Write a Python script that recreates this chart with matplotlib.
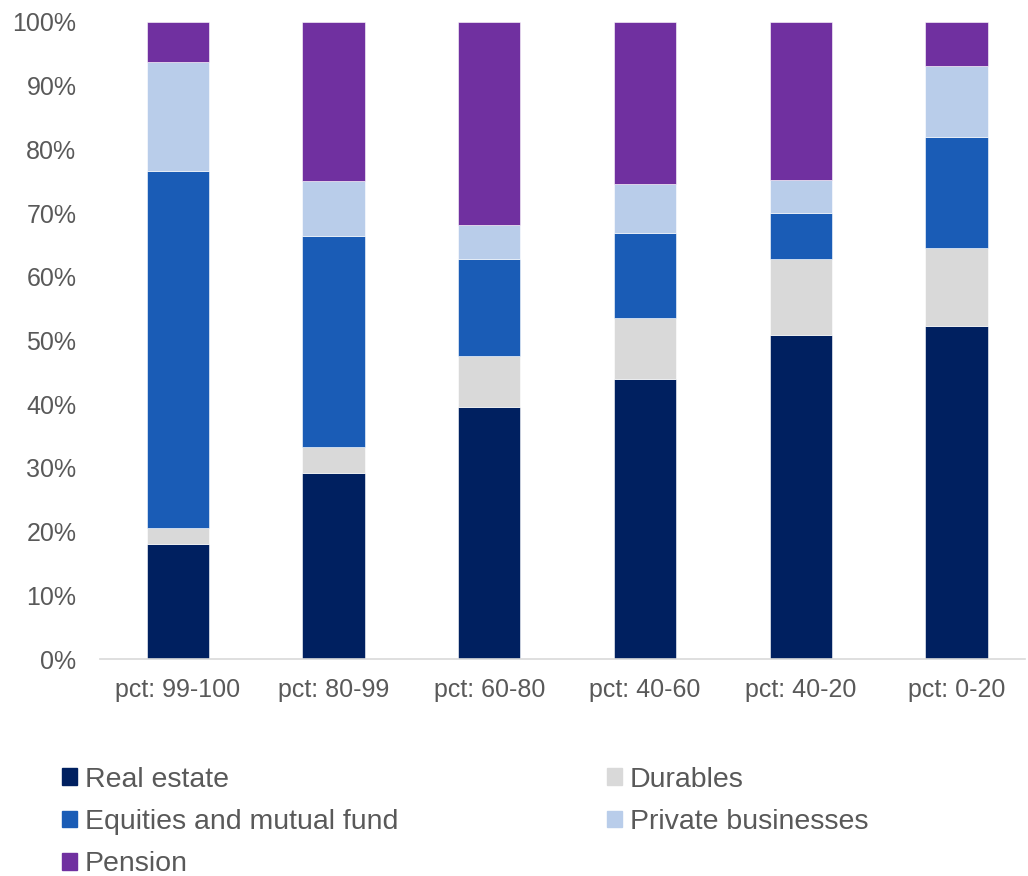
import numpy as np
import matplotlib
matplotlib.use('Agg')
import matplotlib.pyplot as plt
from matplotlib.patches import Patch

plt.rcParams['font.family'] = ['Liberation Sans', 'DejaVu Sans']

categories = ['pct: 99-100', 'pct: 80-99', 'pct: 60-80', 'pct: 40-60', 'pct: 40-20', 'pct: 0-20']
real_estate = [18.0, 29.2, 39.6, 44.0, 50.9, 52.3]
durables    = [2.5, 4.1, 8.0, 9.5, 11.9, 12.2]
equities    = [56.1, 33.1, 15.2, 13.4, 7.2, 17.4]
private_bus = [17.1, 8.6, 5.3, 7.7, 5.2, 11.2]
pension     = [6.3, 25.0, 31.9, 25.4, 24.8, 6.9]

series = [('Real estate', real_estate, '#002060'),
          ('Durables', durables, '#D9D9D9'),
          ('Equities and mutual fund', equities, '#1A5CB6'),
          ('Private businesses', private_bus, '#B9CDEA'),
          ('Pension', pension, '#7030A0')]

TXT = '#595959'

fig = plt.figure(figsize=(10.28, 8.76), dpi=100)
ax = fig.add_axes([0.0973, 0.2477, 0.8998, 0.7273])

x = np.arange(len(categories))
bottom = np.zeros(len(categories))
handles = {}
for name, vals, col in series:
    vals = np.array(vals)
    ax.bar(x, vals, 0.4, bottom=bottom, color=col, edgecolor='white', linewidth=0.4)
    bottom += vals
    handles[name] = Patch(color=col, label=name)

ax.set_xlim(-0.5, 5.44)
ax.set_ylim(0, 100)
ax.set_yticks(np.arange(0, 101, 10))
ax.set_yticklabels([f'{v}%' for v in range(0, 101, 10)])
ax.set_xticks(x)
ax.set_xticklabels(categories)
ax.tick_params(axis='both', length=0, labelsize=18, colors=TXT)
ax.tick_params(axis='y', pad=17)
ax.tick_params(axis='x', pad=14)
for s in ['top', 'right', 'left']:
    ax.spines[s].set_visible(False)
ax.spines['bottom'].set_color('#D9D9D9')
ax.spines['bottom'].set_linewidth(1.2)

def add_legend(names, xpos):
    leg = fig.legend([handles[n] for n in names], names, loc='upper left',
                     bbox_to_anchor=(xpos, 0.1246), frameon=False, fontsize=20.5,
                     handlelength=0.53, handleheight=0.53, handletextpad=0.28,
                     labelspacing=0.57, borderpad=0, borderaxespad=0)
    for t in leg.get_texts():
        t.set_color(TXT)
    return leg

add_legend(['Real estate', 'Equities and mutual fund', 'Pension'], 0.0603)
add_legend(['Durables', 'Private businesses'], 0.5905)

fig.savefig('out.png', dpi=100)
